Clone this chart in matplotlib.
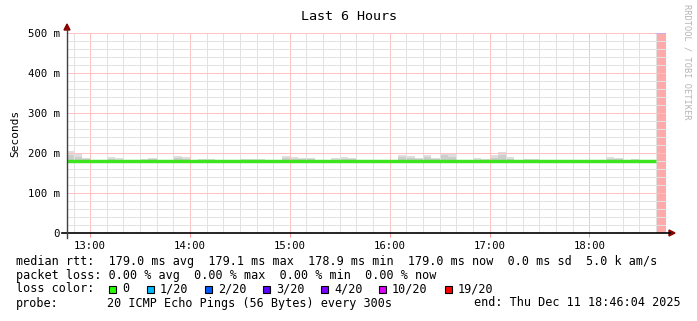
import matplotlib
matplotlib.use('Agg')
import matplotlib.pyplot as plt
from matplotlib.lines import Line2D
from matplotlib.patches import Polygon, Rectangle
from matplotlib.ticker import MultipleLocator, FixedLocator, FuncFormatter

# time window (hours of day)
t_start = 12 + 46 / 60 + 4 / 3600
t_end = 18 + 46 / 60 + 4 / 3600
t_first_bin = 12 + 45 / 60
t_unknown = 18 + 40 / 60
step = 5 / 60

# per 5 minute bin, ms
smoke_max = [206, 201, 188, 181, 181, 190, 187, 181, 181, 185,
             188, 182, 182, 193, 190, 181, 186, 186, 181, 181,
             181, 186, 186, 185, 181, 181, 193, 190, 188, 188,
             181, 181, 187, 191, 188, 181, 181, 181, 181, 181,
             195, 192, 188, 195, 188, 200, 197, 181, 181, 187,
             186, 195, 202, 190, 181, 184, 185, 181, 181, 181,
             181, 181, 181, 181, 181, 190, 188, 181, 184, 181,
             181]
smoke_mid = [194, 191, 184, 180, 180, 185, 183, 180, 180, 182,
             184, 180, 180, 187, 185, 180, 183, 183, 180, 180,
             180, 183, 183, 182, 180, 180, 187, 185, 184, 184,
             180, 180, 183, 186, 184, 180, 180, 180, 180, 180,
             189, 187, 184, 189, 184, 194, 189, 180, 180, 183,
             183, 188, 196, 185, 180, 182, 182, 180, 180, 180,
             180, 180, 180, 180, 180, 185, 184, 180, 182, 180,
             180]
median = [179.0, 179.0, 179.1, 179.0, 179.0, 179.0, 179.0, 178.9, 179.0, 179.0,
          179.0, 179.0, 179.0, 179.0, 179.1, 179.0, 179.0, 179.0, 179.0, 179.0,
          179.0, 179.0, 179.0, 179.0, 178.9, 179.0, 179.0, 179.0, 179.0, 179.0,
          179.0, 179.0, 179.0, 179.0, 179.0, 179.0, 179.0, 179.0, 179.0, 179.0,
          179.0, 179.0, 179.1, 179.0, 179.0, 179.0, 179.0, 179.0, 179.0, 179.0,
          179.0, 179.0, 179.0, 179.0, 179.0, 178.9, 179.0, 179.0, 179.0, 179.0,
          179.0, 179.0, 179.0, 179.0, 179.0, 179.0, 179.0, 179.0, 179.0, 179.0,
          179.0]
smoke_floor = 178.6

hour_ticks = [13, 14, 15, 16, 17, 18]
hour_labels = ["13:00", "14:00", "15:00", "16:00", "17:00", "18:00"]

loss_labels = ["0", "1/20", "2/20", "3/20", "4/20", "10/20", "19/20"]
loss_colors = ["#26ff00", "#00b8ff", "#0059ff", "#5e00ff", "#7e00ff", "#dd00ff", "#ff0000"]

legend_rtt = "median rtt:  179.0 ms avg  179.1 ms max  178.9 ms min  179.0 ms now  0.0 ms sd  5.0 k am/s"
legend_loss = "packet loss: 0.00 % avg  0.00 % max  0.00 % min  0.00 % now"
probe_text = "20 ICMP Echo Pings (56 Bytes) every 300s"
end_text = "end: Thu Dec 11 18:46:04 2025"

W, H = 697, 321
MONO = "DejaVu Sans Mono"


def fx(x):
    return x / W


def fy(y):
    return 1 - y / H


fig = plt.figure(figsize=(W / 100, H / 100), dpi=100)
fig.patch.set_facecolor("white")
ax = fig.add_axes([fx(67), fy(233), 599 / W, 200 / H])
ax.set_xlim(t_start, t_end)
ax.set_ylim(0, 500)
for s in ax.spines.values():
    s.set_visible(False)

bins = [t_first_bin + k * step for k in range(len(smoke_max))]

# smoke
ax.bar(bins, [v - smoke_floor for v in smoke_max], bottom=smoke_floor, width=step,
       align="edge", color="#dedede", linewidth=0, zorder=1)
ax.bar(bins, [v - smoke_floor for v in smoke_mid], bottom=smoke_floor, width=step,
       align="edge", color="#cdcdcd", linewidth=0, zorder=1.1)

# unknown data
ax.axvspan(t_unknown, t_end, color="#ffaaaa", linewidth=0, zorder=2.5)
ax.plot([t_unknown, t_end], [499.5, 499.5], color="#c8a8ee", lw=1.2, zorder=2.6)

# median line
ax.plot(bins + [bins[-1] + step], median + [median[-1]], drawstyle="steps-post",
        color="#3ee51f", lw=2.5, solid_capstyle="butt", zorder=3)

# grid
ax.yaxis.set_major_locator(MultipleLocator(100))
ax.yaxis.set_minor_locator(MultipleLocator(20))
ax.xaxis.set_major_locator(FixedLocator(hour_ticks))
ax.xaxis.set_minor_locator(MultipleLocator(1 / 6))
ax.grid(which="minor", color="#e2e2e2", lw=0.7, zorder=2)
ax.grid(which="major", color="#ffc0c0", lw=0.7, zorder=2.1)
ax.set_axisbelow(False)

ax.set_xticklabels(hour_labels)
ax.yaxis.set_major_formatter(FuncFormatter(lambda v, p: "0" if v == 0 else f"{int(v)} m"))
ax.tick_params(axis="y", which="both", length=0, pad=5, labelsize=7.7)
ax.tick_params(axis="x", which="major", length=3, width=0.7, color="#ff9090", pad=2.5,
               labelsize=7.7)
ax.tick_params(axis="x", which="minor", length=0)
for lab in ax.get_xticklabels() + ax.get_yticklabels():
    lab.set_family(MONO)

# axes with arrows
fig.add_artist(Line2D([fx(62), fx(670)], [fy(233), fy(233)], color="black", lw=1.2,
                      transform=fig.transFigure))
fig.add_artist(Line2D([fx(67), fx(67)], [fy(238), fy(29)], color="#404040", lw=1.0,
                      transform=fig.transFigure))
fig.add_artist(Polygon([[fx(669), fy(230)], [fx(675), fy(233)], [fx(669), fy(236)]],
                       closed=True, color="#8b0000", transform=fig.transFigure))
fig.add_artist(Polygon([[fx(64), fy(30)], [fx(67), fy(24)], [fx(70), fy(30)]],
                       closed=True, color="#8b0000", transform=fig.transFigure))

# titles
fig.text(fx(349), fy(16), "Last 6 Hours", family=MONO, fontsize=9.6, ha="center", va="center")
fig.text(fx(15), fy(133), "Seconds", family=MONO, fontsize=8, rotation=90, ha="center", va="center")
fig.text(fx(687), fy(4), "RRDTOOL / TOBI OETIKER", family=MONO, fontsize=6.2, rotation=270,
         ha="center", va="top", color="#b4b4b4")

# legend
fig.text(fx(16), fy(261), legend_rtt, family=MONO, fontsize=8.5, ha="left", va="center")
fig.text(fx(16), fy(275), legend_loss, family=MONO, fontsize=8.5, ha="left", va="center")
fig.text(fx(16), fy(289), "loss color:", family=MONO, fontsize=8.5, ha="left", va="center")
box_x = [109, 147, 205, 263, 321, 379, 445]
for bx, lab, col in zip(box_x, loss_labels, loss_colors):
    fig.add_artist(Rectangle((fx(bx), fy(293)), 7 / W, 7 / H, facecolor=col,
                             edgecolor="black", lw=0.8, transform=fig.transFigure))
    fig.text(fx(bx + 13), fy(289), lab, family=MONO, fontsize=8.5, ha="left", va="center")
fig.text(fx(16), fy(303), "probe:", family=MONO, fontsize=8.5, ha="left", va="center")
fig.text(fx(107), fy(303), probe_text, family=MONO, fontsize=8.5, ha="left", va="center")
fig.text(fx(681), fy(303), end_text, family=MONO, fontsize=8.5, ha="right", va="center")

fig.savefig("out.png", dpi=100)
